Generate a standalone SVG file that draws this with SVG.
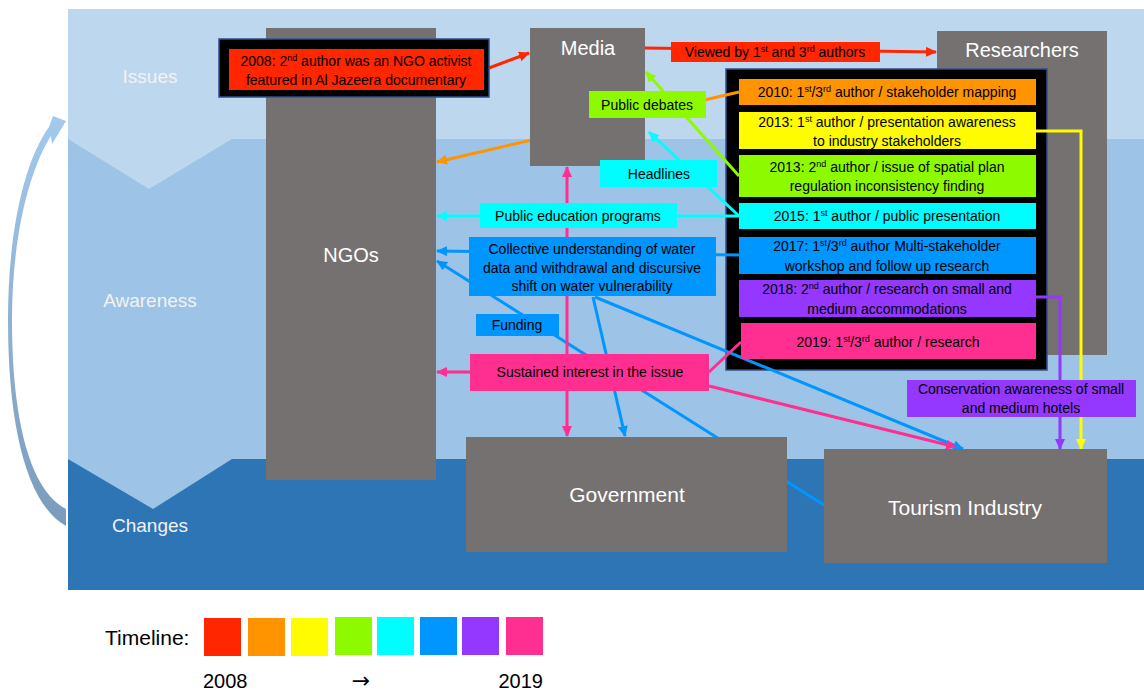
<svg xmlns="http://www.w3.org/2000/svg" width="1144" height="691" viewBox="0 0 1144 691">
<style>
.node{fill:#767171}
.ntxt{font-family:"Liberation Sans",Arial,sans-serif;font-size:20px;fill:#FFFFFF;text-anchor:middle}
.band{font-family:"Liberation Sans",Arial,sans-serif;font-size:19px;fill:#F2F2F2;text-anchor:middle}
.lbl{font-family:"Liberation Sans",Arial,sans-serif;font-size:14px;fill:#000000;text-anchor:middle}
.tl{font-family:"Liberation Sans",Arial,sans-serif;font-size:20px;fill:#000000}
.ln{fill:none;stroke-width:3}
</style>
<defs>
<linearGradient id="cg" x1="0" y1="0" x2="0" y2="1">
<stop offset="0" stop-color="#A3C9EC"/>
<stop offset="1" stop-color="#7A9BBC"/>
</linearGradient>
<marker id="aRed" markerUnits="userSpaceOnUse" markerWidth="11" markerHeight="10" refX="10" refY="5" orient="auto"><path d="M0,0 L11,5 L0,10 z" fill="#FF2600"/></marker>
<marker id="aOra" markerUnits="userSpaceOnUse" markerWidth="11" markerHeight="10" refX="10" refY="5" orient="auto"><path d="M0,0 L11,5 L0,10 z" fill="#FF9300"/></marker>
<marker id="aYel" markerUnits="userSpaceOnUse" markerWidth="11" markerHeight="10" refX="10" refY="5" orient="auto"><path d="M0,0 L11,5 L0,10 z" fill="#FFFB00"/></marker>
<marker id="aGrn" markerUnits="userSpaceOnUse" markerWidth="11" markerHeight="10" refX="10" refY="5" orient="auto"><path d="M0,0 L11,5 L0,10 z" fill="#8EFA00"/></marker>
<marker id="aCyn" markerUnits="userSpaceOnUse" markerWidth="11" markerHeight="10" refX="10" refY="5" orient="auto"><path d="M0,0 L11,5 L0,10 z" fill="#00FDFF"/></marker>
<marker id="aBlu" markerUnits="userSpaceOnUse" markerWidth="11" markerHeight="10" refX="10" refY="5" orient="auto"><path d="M0,0 L11,5 L0,10 z" fill="#0096FF"/></marker>
<marker id="aPur" markerUnits="userSpaceOnUse" markerWidth="11" markerHeight="10" refX="10" refY="5" orient="auto"><path d="M0,0 L11,5 L0,10 z" fill="#9437FF"/></marker>
<marker id="aPnk" markerUnits="userSpaceOnUse" markerWidth="11" markerHeight="10" refX="10" refY="5" orient="auto"><path d="M0,0 L11,5 L0,10 z" fill="#FF2F92"/></marker>
</defs>
<rect x="0" y="0" width="1144" height="691" fill="#FFFFFF"/>
<g id="background">
<rect x="68" y="9" width="1076" height="131" fill="#BDD7EE"/>
<rect x="68" y="139" width="1076" height="321" fill="#9DC3E6"/>
<rect x="68" y="459" width="1076" height="131" fill="#2E75B6"/>
<polygon points="68,139 149,189 232,139" fill="#BDD7EE"/>
<polygon points="68,459 153,509 232,459" fill="#9DC3E6"/>
<text class="band" x="150" y="83">Issues</text>
<text class="band" x="150" y="307">Awareness</text>
<text class="band" x="150" y="532">Changes</text>
<path d="M66,526 C28,505 8,430 8,320 C8,230 25,160 49,127 L53,116 L66,121 L52,144 L51,136 C32,165 12,230 12,320 C12,420 30,490 66,509 Z" fill="url(#cg)"/>
</g>
<g id="researchers">
<rect class="node" x="937" y="31" width="170" height="324"/>
<text class="ntxt" x="1022" y="57">Researchers</text>
</g>
<g id="events-frame">
<rect x="726" y="69" width="321" height="301" fill="#000000" stroke="#2F528F" stroke-width="1.5"/>
</g>
<g id="connectors">
<line class="ln" x1="489" y1="68" x2="529" y2="53" stroke="#FF2600" marker-end="url(#aRed)"/>
<line class="ln" x1="645" y1="48" x2="936" y2="52" stroke="#FF2600" marker-end="url(#aRed)"/>
<line class="ln" x1="739" y1="92" x2="437" y2="162" stroke="#FF9300" marker-end="url(#aOra)"/>
<polyline class="ln" points="1036,131 1081,131 1081,449" stroke="#FFFB00" marker-end="url(#aYel)"/>
<line class="ln" x1="739" y1="176" x2="646" y2="72" stroke="#8EFA00" marker-end="url(#aGrn)"/>
<line class="ln" x1="739" y1="216" x2="437" y2="216" stroke="#00FDFF" marker-end="url(#aCyn)"/>
<line class="ln" x1="739" y1="216" x2="649" y2="132" stroke="#00FDFF" marker-end="url(#aCyn)"/>
<line class="ln" x1="739" y1="255" x2="437" y2="251" stroke="#0096FF" marker-end="url(#aBlu)"/>
<line class="ln" x1="824" y1="505" x2="437" y2="261" stroke="#0096FF" marker-end="url(#aBlu)"/>
<line class="ln" x1="593" y1="297" x2="625" y2="436" stroke="#0096FF" marker-end="url(#aBlu)"/>
<line class="ln" x1="595" y1="297" x2="963" y2="449" stroke="#0096FF" marker-end="url(#aBlu)"/>
<line class="ln" x1="741" y1="342" x2="709" y2="372" stroke="#FF2F92"/>
<line class="ln" x1="470" y1="372" x2="437" y2="372" stroke="#FF2F92" marker-end="url(#aPnk)"/>
<line class="ln" x1="567" y1="372" x2="567" y2="167" stroke="#FF2F92" marker-end="url(#aPnk)"/>
<line class="ln" x1="567" y1="372" x2="567" y2="436" stroke="#FF2F92" marker-end="url(#aPnk)"/>
<line class="ln" x1="709" y1="386" x2="956" y2="447" stroke="#FF2F92" marker-end="url(#aPnk)"/>
<polyline class="ln" points="1036,297 1060,297 1060,449" stroke="#9437FF" marker-end="url(#aPur)"/>
</g>
<g id="ngos">
<rect class="node" x="266" y="28" width="170" height="452"/>
<text class="ntxt" x="351" y="262">NGOs</text>
</g>
<g id="media">
<rect class="node" x="530" y="28" width="115" height="138"/>
<text class="ntxt" x="588" y="55">Media</text>
</g>
<g id="government">
<rect class="node" x="466" y="437" width="321" height="115"/>
<text class="ntxt" x="627" y="502" style="font-size:21px">Government</text>
</g>
<g id="tourism">
<rect class="node" x="824" y="449" width="283" height="114"/>
<text class="ntxt" x="965" y="515" style="font-size:21px">Tourism Industry</text>
</g>
<g id="event-2008">
<rect x="219" y="39" width="270" height="58" fill="#000000" stroke="#2F528F" stroke-width="1.5"/>
<rect x="229" y="49" width="255" height="41" fill="#FF2600"/>
<text class="lbl" x="356" y="66">2008: 2<tspan font-size="9" dy="-5">nd</tspan><tspan dy="5"> author was an NGO activist</tspan></text>
<text class="lbl" x="356" y="85">featured in Al Jazeera documentary</text>
</g>
<g id="label-viewed">
<rect x="671" y="42" width="209" height="20" fill="#FF2600"/>
<text class="lbl" x="775" y="57">Viewed by 1<tspan font-size="9" dy="-5">st</tspan><tspan dy="5"> and 3</tspan><tspan font-size="9" dy="-5">rd</tspan><tspan dy="5"> authors</tspan></text>
</g>
<g id="label-public-debates">
<rect x="589" y="91" width="117" height="27" fill="#8EFA00"/>
<text class="lbl" x="647" y="110">Public debates</text>
</g>
<g id="label-headlines">
<rect x="600" y="160" width="117" height="27" fill="#00FDFF"/>
<text class="lbl" x="659" y="179">Headlines</text>
</g>
<g id="label-public-education">
<rect x="480" y="203" width="197" height="25" fill="#00FDFF"/>
<text class="lbl" x="578" y="221">Public education programs</text>
</g>
<g id="label-collective">
<rect x="469" y="237" width="247" height="59" fill="#0096FF"/>
<text class="lbl" x="592" y="254">Collective understanding of water</text>
<text class="lbl" x="592" y="273">data and withdrawal and discursive</text>
<text class="lbl" x="592" y="291">shift on water vulnerability</text>
</g>
<g id="label-funding">
<rect x="476" y="314" width="83" height="22" fill="#0096FF"/>
<text class="lbl" x="517" y="330">Funding</text>
</g>
<g id="label-sustained">
<rect x="470" y="354" width="239" height="37" fill="#FF2F92"/>
<text class="lbl" x="590" y="377">Sustained interest in the issue</text>
</g>
<g id="label-conservation">
<rect x="907" y="380" width="229" height="37" fill="#9437FF"/>
<text class="lbl" x="1021" y="394">Conservation awareness of small</text>
<text class="lbl" x="1021" y="413">and medium hotels</text>
</g>
<g id="event-2010">
<rect x="739" y="79" width="297" height="26" fill="#FF9300"/>
<text class="lbl" x="887" y="97">2010: 1<tspan font-size="9" dy="-5">st</tspan><tspan dy="5">/3</tspan><tspan font-size="9" dy="-5">rd</tspan><tspan dy="5"> author / stakeholder mapping</tspan></text>
</g>
<g id="event-2013a">
<rect x="739" y="112" width="297" height="37" fill="#FFFB00"/>
<text class="lbl" x="887" y="127">2013: 1<tspan font-size="9" dy="-5">st</tspan><tspan dy="5"> author / presentation awareness</tspan></text>
<text class="lbl" x="887" y="146">to industry stakeholders</text>
</g>
<g id="event-2013b">
<rect x="739" y="155" width="297" height="42" fill="#8EFA00"/>
<text class="lbl" x="887" y="172">2013: 2<tspan font-size="9" dy="-5">nd</tspan><tspan dy="5"> author / issue of spatial plan</tspan></text>
<text class="lbl" x="887" y="191">regulation inconsistency finding</text>
</g>
<g id="event-2015">
<rect x="739" y="203" width="297" height="26" fill="#00FDFF"/>
<text class="lbl" x="887" y="221">2015: 1<tspan font-size="9" dy="-5">st</tspan><tspan dy="5"> author / public presentation</tspan></text>
</g>
<g id="event-2017">
<rect x="739" y="237" width="297" height="37" fill="#0096FF"/>
<text class="lbl" x="887" y="251">2017: 1<tspan font-size="9" dy="-5">st</tspan><tspan dy="5">/3</tspan><tspan font-size="9" dy="-5">rd</tspan><tspan dy="5"> author Multi-stakeholder</tspan></text>
<text class="lbl" x="887" y="271">workshop and follow up research</text>
</g>
<g id="event-2018">
<rect x="739" y="280" width="297" height="37" fill="#9437FF"/>
<text class="lbl" x="887" y="294">2018: 2<tspan font-size="9" dy="-5">nd</tspan><tspan dy="5"> author / research on small and</tspan></text>
<text class="lbl" x="887" y="314">medium accommodations</text>
</g>
<g id="event-2019">
<rect x="741" y="323" width="295" height="36" fill="#FF2F92"/>
<text class="lbl" x="888" y="347">2019: 1<tspan font-size="9" dy="-5">st</tspan><tspan dy="5">/3</tspan><tspan font-size="9" dy="-5">rd</tspan><tspan dy="5"> author / research</tspan></text>
</g>
<g id="timeline">
<text class="tl" x="105" y="645" style="font-size:21px">Timeline:</text>
<rect x="204" y="618" width="37" height="38" fill="#FF2600"/>
<rect x="248" y="618" width="37" height="38" fill="#FF9300"/>
<rect x="291" y="618" width="37" height="38" fill="#FFFB00"/>
<rect x="335" y="617" width="37" height="38" fill="#8EFA00"/>
<rect x="377" y="617" width="37" height="38" fill="#00FDFF"/>
<rect x="420" y="617" width="37" height="38" fill="#0096FF"/>
<rect x="462" y="617" width="37" height="38" fill="#9437FF"/>
<rect x="506" y="617" width="37" height="38" fill="#FF2F92"/>
<text class="tl" x="203" y="688">2008</text>
<text x="361" y="688" text-anchor="middle" style="font-family:'DejaVu Sans',sans-serif;font-size:22px;fill:#000000">→</text>
<text class="tl" x="543" y="688" text-anchor="end">2019</text>
</g>
</svg>
